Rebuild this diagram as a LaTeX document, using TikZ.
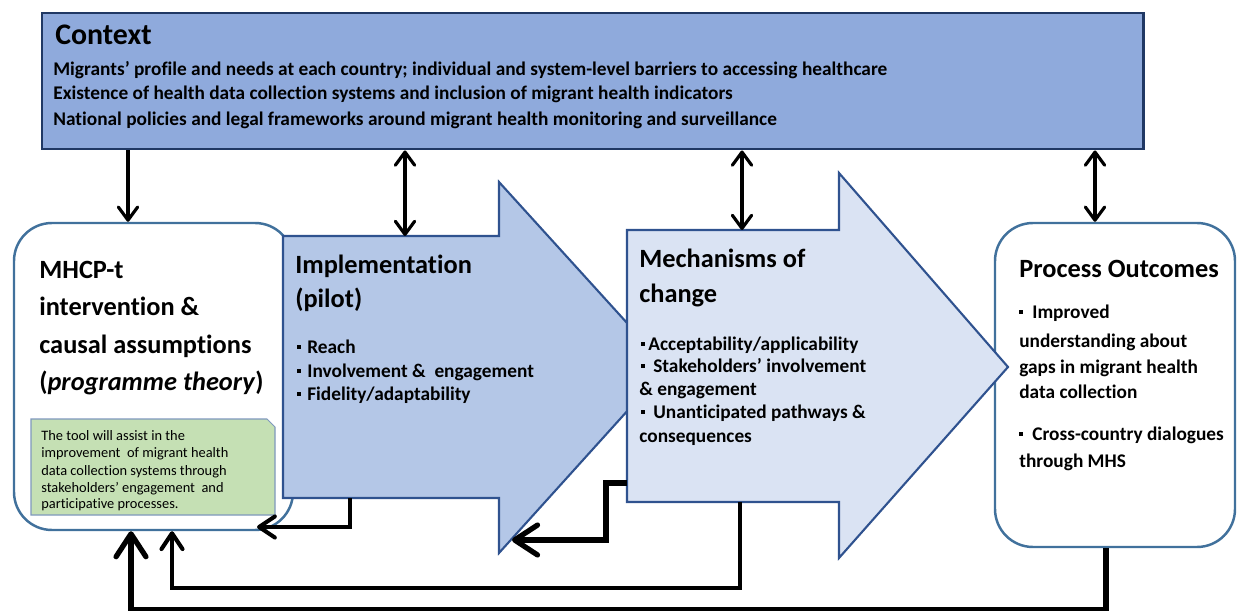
\documentclass[tikz,border=0pt]{standalone}
\usepackage{fontspec}
\setmainfont{Carlito}[Ligatures=NoCommon]
\usetikzlibrary{arrows.meta,fit}
\definecolor{ctxfill}{HTML}{8FAADC}
\definecolor{ctxedge}{HTML}{203864}
\definecolor{implfill}{HTML}{B4C7E7}
\definecolor{mechfill}{HTML}{DAE3F3}
\definecolor{shapeedge}{HTML}{2F528F}
\definecolor{roundedge}{HTML}{41719C}
\definecolor{notefill}{HTML}{C5E0B4}
\definecolor{noteedge}{HTML}{7F98BD}
% small square bullet
\newcommand{\sqb}{\raisebox{0.22em}{\rule{0.2em}{0.2em}}}
\newcommand{\bl}[1]{\makebox[#1][l]{\sqb}}
\begin{document}
\begin{tikzpicture}[x=0.02cm,y=-0.02cm,
  txt/.style={anchor=base west, inner sep=0pt},
  bigtitle/.style={txt, font=\fontsize{17}{20}\selectfont\bfseries},
  ttl/.style={txt, font=\fontsize{15}{18}\selectfont\bfseries},
  ctxtext/.style={txt, font=\fontsize{11}{13}\selectfont\bfseries},
  bul/.style={txt, font=\fontsize{11}{13}\selectfont\bfseries},
  notetext/.style={txt, font=\fontsize{8.2}{10}\selectfont},
  ctxbox/.style={draw=ctxedge, fill=ctxfill, line width=1.7pt, inner sep=0pt},
  roundbox/.style={draw=roundedge, fill=white, line width=1.4pt, rounded corners=0.76cm, inner sep=0pt},
  arrowshape/.style={draw=shapeedge, line width=1.2pt, line join=miter},
  ctxarrow/.style={line width=1.8pt, -{Straight Barb[round,length=7.5pt,width=11pt]}},
  ctxdbl/.style={line width=1.8pt, {Straight Barb[round,length=7.5pt,width=11pt]}-{Straight Barb[round,length=7.5pt,width=11pt]}},
  fbthin/.style={line width=2.3pt, -{Straight Barb[round,length=9pt,width=12pt]}},
  fbthick/.style={line width=3pt, -{Straight Barb[round,length=13pt,width=17pt]}}
]
\useasboundingbox (0,0) rectangle (1237,611);

% context panel
\node[ctxbox, fit={(42,13) (1143,149)}] (ctx) {};
\node[bigtitle] (ctxT) at (55,45) {Context};
\node[ctxtext] (ctx1) at (53,76) {Migrants’ profile and needs at each country; individual and system-level barriers to accessing healthcare};
\node[ctxtext] (ctx2) at (53,100) {Existence of health data collection systems and inclusion of migrant health indicators};
\node[ctxtext] (ctx3) at (53,126) {National policies and legal frameworks around migrant health monitoring and surveillance};

% programme theory box
\node[roundbox, fit={(14,223) (293,530)}] (mhcp) {};
\node[ttl] (m1) at (39,278) {MHCP-t};
\node[ttl] (m2) at (39,316) {intervention \&};
\node[ttl] (m3) at (39,353) {causal assumptions};
\node[ttl] (m4) at (39,390) {(\textit{programme theory})};

% note with snipped corner
\path[draw=noteedge, fill=notefill, line width=0.6pt] (31,419) -- (267,419) -- (275,427) -- (275,515) -- (31,515) -- cycle;
\node[notetext] (n1) at (41,440) {The tool will assist in the};
\node[notetext] (n2) at (41,457) {improvement\ \ of migrant health};
\node[notetext] (n3) at (41,475) {data collection systems through};
\node[notetext] (n4) at (41,492) {stakeholders’ engagement\ \ and};
\node[notetext] (n5) at (41,508) {participative processes.};

% process outcomes box
\node[roundbox, fit={(995,223) (1235,547)}] (proc) {};
\node[ttl] (p0) at (1019,277) {Process Outcomes};
\node[bul] (p1) at (1019,318) {\bl{7.4pt}Improved};
\node[bul] (p2) at (1019,347) {understanding about};
\node[bul] (p3) at (1019,373) {gaps in migrant health};
\node[bul] (p4) at (1019,398) {data collection};
\node[bul] (p5) at (1019,440) {\bl{7.4pt}Cross-country dialogues};
\node[bul] (p6) at (1019,467) {through MHS};

% implementation block arrow
\path[arrowshape, fill=implfill] (283,236) -- (499,236) -- (499,182) -- (667,367) -- (499,553) -- (499,498) -- (283,498) -- cycle;
\node[ttl] (i0) at (295,274) {Implementation};
\node[ttl] (i1) at (295,307) {(pilot)};
\node[bul] (i2) at (297,353) {\bl{5.7pt}Reach};
\node[bul] (i3) at (297,377) {\bl{5.7pt}Involvement \&\ \ engagement};
\node[bul] (i4) at (297,400) {\bl{5.7pt}Fidelity/adaptability};

% mechanisms block arrow
\path[arrowshape, fill=mechfill] (627,230) -- (839,230) -- (839,173) -- (1008,367) -- (839,558) -- (839,502) -- (627,502) -- cycle;
\node[ttl] (k0) at (639,268) {Mechanisms of};
\node[ttl] (k1) at (639,302) {change};
\node[bul] (k2) at (641,350) {\bl{4pt}Acceptability/applicability};
\node[bul] (k3) at (641,372) {\bl{6.8pt}Stakeholders’ involvement};
\node[bul] (k4) at (639,395) {\& engagement};
\node[bul] (k5) at (641,418) {\bl{6.8pt}Unanticipated pathways \&};
\node[bul] (k6) at (639,442) {consequences};

% anchor points on the block arrows and connector columns
\coordinate (xa) at (128,0);
\coordinate (xp) at (1095,0);
\coordinate (xm) at (131,0);
\coordinate (xk) at (172,0);
\coordinate (xo) at (1106,0);
\coordinate (impltop) at (405,236);
\coordinate (mechtop) at (742,230);
\coordinate (implbot) at (350,498);
\coordinate (implhead) at (512,540);
\coordinate (mechleft) at (627,483);
\coordinate (mechbot) at (740,502);
\coordinate (mhcpcorner) at (257,527);

% context links
\draw[ctxarrow] (ctx.south -| xa) -- (mhcp.north -| xa);
\draw[ctxdbl] (ctx.south -| impltop) -- (impltop);
\draw[ctxdbl] (ctx.south -| mechtop) -- (mechtop);
\draw[ctxdbl] (ctx.south -| xp) -- (proc.north -| xp);

% feedback loops
\draw[fbthin] (implbot) |- (mhcpcorner);
\draw[fbthick] (mechleft) -- ++(-21,0) |- (implhead);
\draw[fbthin] (mechbot) -- ++(0,86) -| (mhcp.south -| xk);
\draw[fbthick] (proc.south -| xo) -- ++(0,61) -| (mhcp.south -| xm);
\end{tikzpicture}
\end{document}
